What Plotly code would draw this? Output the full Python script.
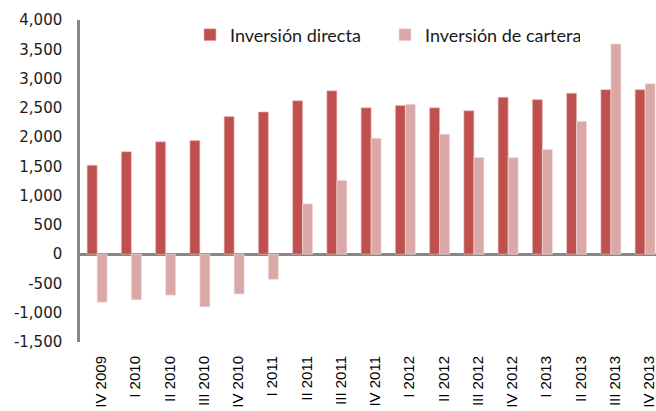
import plotly.graph_objects as go

categories = ["IV 2009", "I 2010", "II 2010", "III 2010", "IV 2010", "I 2011", "II 2011",
              "III 2011", "IV 2011", "I 2012", "II 2012", "III 2012", "IV 2012", "I 2013",
              "II 2013", "III 2013", "IV 2013"]
inversion_directa = [1520, 1750, 1920, 1940, 2350, 2430, 2620, 2790, 2500, 2540, 2500,
                     2450, 2680, 2640, 2750, 2810, 2810]
inversion_cartera = [-820, -780, -700, -900, -680, -430, 860, 1260, 1980, 2560, 2050,
                     1650, 1650, 1790, 2270, 3590, 2910]
y_tick_values = [-1500, -1000, -500, 0, 500, 1000, 1500, 2000, 2500, 3000, 3500, 4000]
y_tick_labels = ["-1,500", "-1,000", "-500", "0", "500", "1,000", "1,500", "2,000",
                 "2,500", "3,000", "3,500", "4,000"]

W, H = 656, 411
ML, MR, MT, MB = 80, 0, 20, 69
plot_w = W - ML - MR
plot_h = H - MT - MB
cat_px = 34.25
x_end = -0.5 + plot_w / cat_px

fig = go.Figure()
fig.add_trace(go.Bar(x=categories, y=inversion_directa, name="Inversión directa",
                     marker=dict(color="#C0504D", line=dict(color="rgba(235,190,190,0.8)", width=0.8))))
fig.add_trace(go.Bar(x=categories, y=inversion_cartera, name="Inversión de cartera",
                     marker=dict(color="#DBA8A8", line=dict(color="rgba(245,220,220,0.8)", width=0.8))))

fig.update_layout(
    width=W, height=H,
    margin=dict(l=ML, r=MR, t=MT, b=MB, autoexpand=False),
    paper_bgcolor="white", plot_bgcolor="white",
    barmode="group", bargap=0.416, bargroupgap=0,
    showlegend=True,
    legend=dict(orientation="h", x=(190 - ML) / plot_w, xanchor="left",
                y=(H - MB - 35) / plot_h, yanchor="middle",
                bgcolor="rgba(0,0,0,0)", entrywidth=150, entrywidthmode="pixels",
                font=dict(family="Lato", size=18, color="#1a1a1a")),
    xaxis=dict(type="category", range=[-0.5, x_end], showline=False, showgrid=False,
               tickangle=-90, automargin=False, ticks="", ticklabelstandoff=10,
               ticklabelshift=4,
               tickfont=dict(family="Liberation Sans", size=15, color="#000000")),
    yaxis=dict(range=[-1500, 4000], tickvals=y_tick_values, ticktext=y_tick_labels,
               showgrid=False, showline=True, linecolor="#878787", linewidth=2.5,
               zeroline=True, zerolinecolor="#878787", zerolinewidth=2.5,
               ticks="", ticklabelstandoff=12, automargin=False,
               tickfont=dict(family="DejaVu Sans", size=15, color="#1a1a1a")),
)

fig.write_html("out.html",
               config={"displayModeBar": False},
               post_script="document.body.style.margin='0';document.body.style.overflow='hidden';")
